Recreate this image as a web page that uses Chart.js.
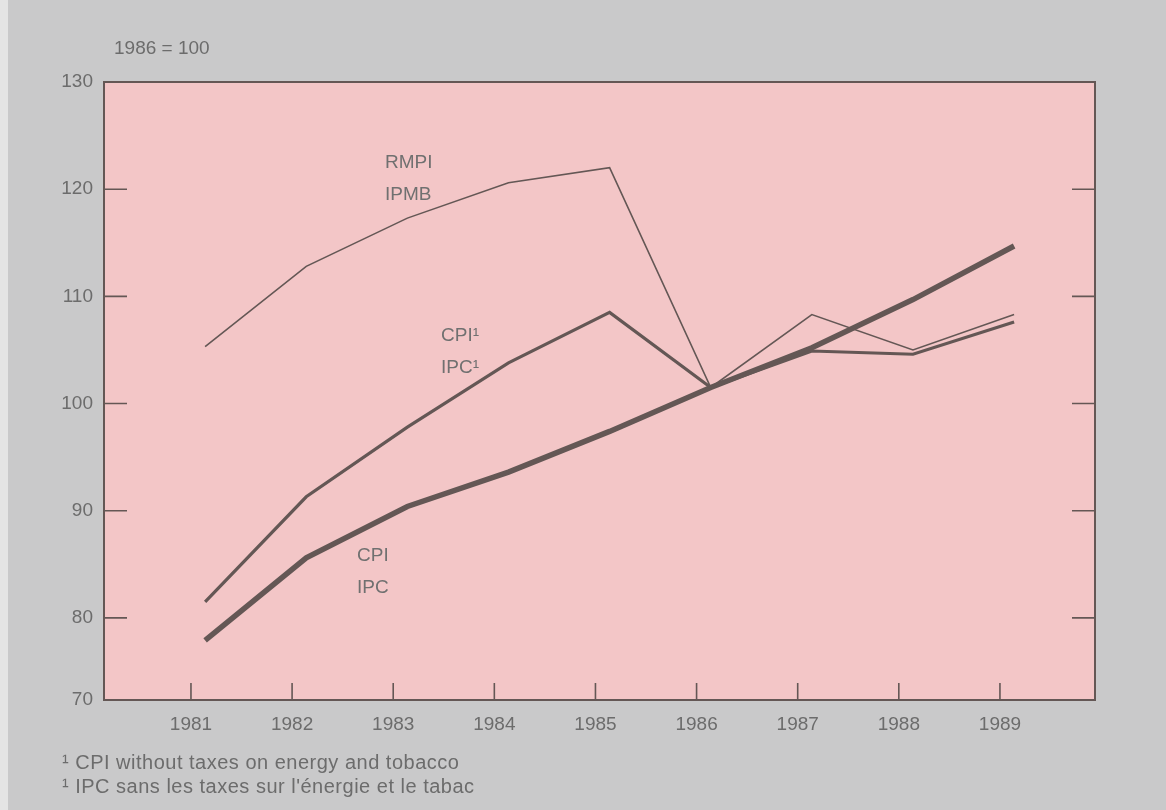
<!DOCTYPE html>
<html lang="en">
  <head>
    <meta charset="UTF-8" />
    <title>RMPI, CPI and CPI without taxes, 1981-1989</title>
    <script src="https://cdn.jsdelivr.net/npm/chart.js"></script>
    <style>
      body {
        margin: 0;
        width: 1166px;
        height: 810px;
        background-color: #c9c9ca;
        font-family: "Liberation Sans", Arial, sans-serif;
        color: #6c6c6c;
        position: relative;
        overflow: hidden;
      }
      .edge {
        position: absolute;
        left: 0;
        top: 0;
        width: 8px;
        height: 810px;
        background-color: #e4e4e4;
      }
      #chartBox {
        position: absolute;
        left: 0;
        top: 0;
        width: 1166px;
        height: 810px;
      }
      .note {
        position: absolute;
        font-size: 19px;
        white-space: nowrap;
        line-height: 1;
      }
      .series-label {
        position: absolute;
        font-size: 19px;
        line-height: 32px;
        color: #707070;
        white-space: nowrap;
      }
      .foot {
        position: absolute;
        left: 62px;
        font-size: 20px;
        letter-spacing: 0.5px;
        line-height: 1;
        color: #6c6c6c;
        white-space: nowrap;
      }
    </style>
  </head>
  <body>
    <div class="edge"></div>
    <div id="chartBox">
      <canvas id="priceChart" width="1166" height="810"></canvas>
    </div>

    <div class="note" style="left: 114px; top: 38px">1986 = 100</div>

    <div class="series-label" style="left: 385px; top: 146px">RMPI<br />IPMB</div>
    <div class="series-label" style="left: 441px; top: 319px">CPI¹<br />IPC¹</div>
    <div class="series-label" style="left: 357px; top: 539px">CPI<br />IPC</div>

    <div class="foot" style="top: 752px">¹ CPI without taxes on energy and tobacco</div>
    <div class="foot" style="top: 776px">¹ IPC sans les taxes sur l'énergie et le tabac</div>

    <script>
      // data (1986 = 100)
      const years = [1981, 1982, 1983, 1984, 1985, 1986, 1987, 1988, 1989];
      const rmpi = [105.3, 112.8, 117.3, 120.6, 122.0, 101.5, 108.3, 105.0, 108.3];
      const cpiExTaxes = [81.5, 91.3, 97.8, 103.8, 108.5, 101.5, 104.9, 104.6, 107.6];
      const cpi = [77.9, 85.6, 90.4, 93.6, 97.4, 101.5, 105.2, 109.7, 114.7];

      // axis ticks
      const yTickValues = [80, 90, 100, 110, 120, 130];
      const yBottomLabel = "70";
      const xTickYears = years;

      // yearly values sit a little right of the year tick
      const pointShift = 0.14;

      const lineColor = "#645755";
      const plotPink = "#f3c6c7";

      const toPoints = (vals) =>
        vals.map((v, i) => ({ x: years[i] + pointShift, y: v }));

      // pink plot area, frame and inward tick marks
      const framePlugin = {
        id: "frame",
        beforeDraw(chart) {
          const { ctx, chartArea: a } = chart;
          ctx.save();
          ctx.fillStyle = plotPink;
          ctx.fillRect(a.left, a.top, a.right - a.left, a.bottom - a.top);
          ctx.restore();
        },
        afterDatasetsDraw(chart) {
          const { ctx, chartArea: a, scales } = chart;
          ctx.save();
          ctx.strokeStyle = lineColor;
          ctx.lineWidth = 2;
          ctx.strokeRect(a.left, a.top, a.right - a.left, a.bottom - a.top);
          ctx.lineWidth = 1.6;
          ctx.beginPath();
          yTickValues.slice(0, -1).forEach((v) => {
            const py = scales.y.getPixelForValue(v);
            ctx.moveTo(a.left, py);
            ctx.lineTo(a.left + 23, py);
            ctx.moveTo(a.right, py);
            ctx.lineTo(a.right - 23, py);
          });
          xTickYears.forEach((yr) => {
            const px = scales.x.getPixelForValue(yr);
            ctx.moveTo(px, a.bottom);
            ctx.lineTo(px, a.bottom - 17);
          });
          ctx.stroke();
          ctx.restore();
        },
      };

      const ctx = document.getElementById("priceChart").getContext("2d");
      const yMin = 72.34;

      new Chart(ctx, {
        type: "line",
        data: {
          datasets: [
            {
              label: "RMPI",
              data: toPoints(rmpi),
              borderColor: lineColor,
              borderWidth: 1.6,
            },
            {
              label: "CPI without taxes",
              data: toPoints(cpiExTaxes),
              borderColor: lineColor,
              borderWidth: 3.2,
            },
            {
              label: "CPI",
              data: toPoints(cpi),
              borderColor: lineColor,
              borderWidth: 5.5,
            },
          ],
        },
        options: {
          responsive: false,
          animation: false,
          events: [],
          elements: {
            point: { radius: 0 },
            line: { tension: 0, borderJoinStyle: "miter", fill: false },
          },
          layout: {
            padding: { left: 0, right: 71, top: 82, bottom: 70 },
          },
          scales: {
            x: {
              type: "linear",
              min: 1980.14,
              max: 1989.94,
              afterBuildTicks: (scale) => {
                scale.ticks = xTickYears.map((yr) => ({ value: yr }));
              },
              afterFit: (scale) => {
                scale.height = 40;
              },
              grid: { display: false, drawTicks: false },
              border: { display: false },
              ticks: {
                padding: 13,
                color: "#6c6c6c",
                font: { family: "Liberation Sans", size: 19 },
                callback: (v) => String(v),
              },
            },
            y: {
              min: yMin,
              max: 130,
              afterBuildTicks: (scale) => {
                scale.ticks = [{ value: yMin }].concat(
                  yTickValues.map((v) => ({ value: v }))
                );
              },
              afterFit: (scale) => {
                scale.width = 104;
              },
              grid: { display: false, drawTicks: false },
              border: { display: false },
              ticks: {
                padding: 11,
                color: "#6c6c6c",
                font: { family: "Liberation Sans", size: 19 },
                callback: (v) => (v === yMin ? yBottomLabel : String(v)),
              },
            },
          },
          plugins: {
            legend: { display: false },
            tooltip: { enabled: false },
          },
        },
        plugins: [framePlugin],
      });
    </script>
  </body>
</html>
